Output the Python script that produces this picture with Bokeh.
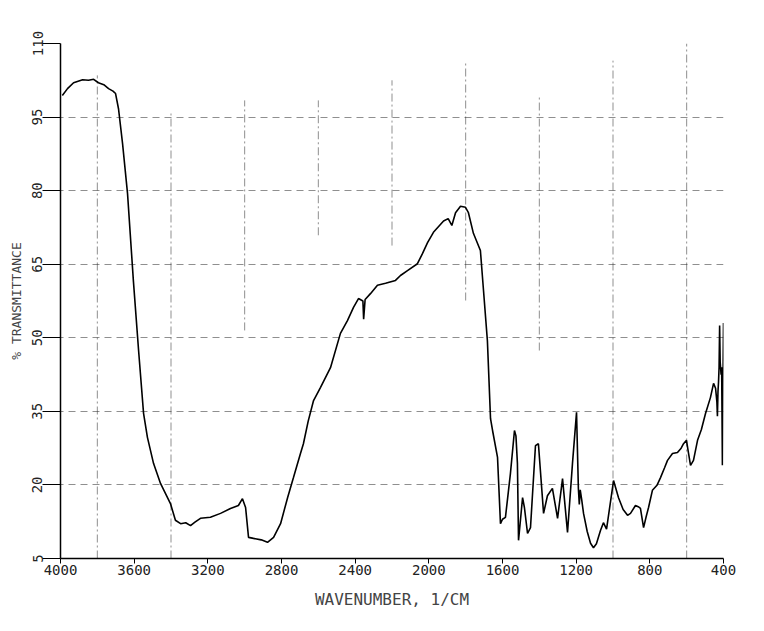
from bokeh.plotting import figure
from bokeh.models import Range1d, FixedTicker, ColumnDataSource
from bokeh.embed import file_html
from bokeh.resources import INLINE

wavenumber = [3990, 3962, 3929, 3880, 3848, 3820, 3794, 3765, 3739, 3715, 3701, 3685, 3663, 3636,
              3604, 3576, 3549, 3528, 3495, 3457, 3403, 3376, 3348, 3320, 3294, 3270, 3240, 3186,
              3131, 3077, 3034, 3012, 2995, 2979, 2952, 2910, 2876, 2843, 2805, 2767, 2735, 2697,
              2681, 2655, 2626, 2588, 2534, 2480, 2442, 2409, 2382, 2358, 2354, 2346, 2317, 2279, 2235,
              2181, 2154, 2116, 2062, 2034, 2007, 1975, 1920, 1895, 1875, 1855, 1828, 1801, 1785,
              1758, 1720, 1703, 1682, 1665, 1654, 1627, 1611, 1600, 1584, 1557, 1535, 1527, 1519,
              1513, 1491, 1481, 1464, 1448, 1421, 1405, 1377, 1356, 1329, 1301, 1274, 1247, 1220,
              1198, 1188, 1183, 1178, 1170, 1160, 1140, 1122, 1106, 1090, 1068, 1052, 1035, 997,
              970, 945, 921, 905, 878, 860, 851, 834, 820, 807, 786, 760, 742, 720, 704, 677, 650,
              630, 617, 601, 590, 579, 563, 541, 520, 498, 471, 454, 443, 436, 433, 430, 427, 424,
              421, 418, 413, 410, 406, 403, 400]
transmittance = [99.4, 100.8, 102.0, 102.6, 102.5, 102.7, 102.0, 101.6, 100.8, 100.3, 99.8, 96.7, 89.6, 79.4,
                 61.5, 47.4, 34.6, 29.7, 24.4, 20.3, 16.2, 12.8, 12.1, 12.3, 11.7, 12.4, 13.2, 13.4,
                 14.2, 15.2, 15.8, 17.2, 15.4, 9.3, 9.1, 8.8, 8.3, 9.3, 12.1, 17.4, 21.5, 26.4,
                 28.4, 33.0, 37.2, 39.9, 43.9, 50.9, 53.5, 56.2, 58.0, 57.5, 53.8, 57.8, 59.0, 60.7, 61.1,
                 61.7, 62.7, 63.7, 65.1, 67.2, 69.4, 71.5, 73.8, 74.3, 72.9, 75.5, 76.8, 76.6, 75.5,
                 71.3, 67.8, 59.6, 49.4, 33.5, 31.1, 25.6, 12.1, 13.0, 13.4, 22.3, 31.1, 30.0, 24.4,
                 8.7, 17.4, 15.4, 10.1, 11.3, 28.0, 28.4, 14.2, 17.8, 19.3, 13.2, 21.3, 10.3, 24.4,
                 34.8, 19.3, 16.0, 19.0, 17.0, 14.2, 10.5, 8.1, 7.2, 8.0, 10.7, 12.3, 11.0, 20.9,
                 17.4, 15.0, 13.8, 14.2, 15.8, 15.5, 15.2, 11.3, 13.5, 15.4, 18.9, 20.0, 21.5, 23.5, 25.0, 26.4, 26.6,
                 27.5, 28.4, 29.1, 26.5, 24.0, 25.0, 29.1, 31.3, 34.5, 37.8, 40.7, 39.7, 37.0, 34.0, 39.0, 41.0, 44.0,
                 52.5, 45.0, 42.5, 44.0, 24.0, 40.0, 53.0]

x_ticks = [4000, 3600, 3200, 2800, 2400, 2000, 1600, 1200, 800, 400]
y_ticks = [5, 20, 35, 50, 65, 80, 95, 110]

# chart-paper rulings (wavenumber, top %T, bottom %T)
paper_x = [3800, 3400, 3000, 2600, 2200, 1800, 1400, 1000, 600]
paper_top = [103.5, 96.3, 98.4, 98.4, 102.5, 106.5, 99.4, 106.5, 110]
paper_bottom = [5, 5, 51.5, 70.9, 68.8, 57.6, 47.4, 5, 5]

FONT = "DejaVu Sans Mono"

p = figure(width=748, height=615,
           x_range=Range1d(4000, 400), y_range=Range1d(5, 110),
           output_backend="svg", toolbar_location=None,
           min_border_left=60, min_border_right=25,
           min_border_top=43, min_border_bottom=57)
p.outline_line_color = None
p.background_fill_color = "white"
p.border_fill_color = "white"

# grids
p.xgrid.grid_line_color = None
p.ygrid.ticker = FixedTicker(ticks=y_ticks[1:-1])
p.ygrid.grid_line_color = "#333333"
p.ygrid.grid_line_alpha = 0.55
p.ygrid.grid_line_dash = "7 5"
p.ygrid.grid_line_width = 1

paper = ColumnDataSource(dict(x=paper_x, top=paper_top, bottom=paper_bottom))
p.segment(x0="x", y0="bottom", x1="x", y1="top", source=paper,
          line_color="#333333", line_alpha=0.55, line_width=1, line_dash="8 3 2 3")

# spectrum
src = ColumnDataSource(dict(x=wavenumber, y=transmittance))
p.line("x", "y", source=src, line_color="black", line_width=1.6)

# axes
xa = p.xaxis[0]
xa.ticker = FixedTicker(ticks=x_ticks)
xa.axis_label = "WAVENUMBER, 1/CM"
xa.axis_label_text_font = FONT
xa.axis_label_text_font_style = "normal"
xa.axis_label_text_font_size = "16px"
xa.axis_label_standoff = 12
xa.major_label_text_font = FONT
xa.major_label_text_font_size = "14px"
xa.major_label_text_color = "#222222"
xa.major_label_standoff = 1
xa.major_tick_out = 5
xa.major_tick_in = 0
xa.minor_tick_line_color = None
xa.axis_line_color = "black"
xa.axis_line_width = 1.5
xa.major_tick_line_color = "black"

ya = p.yaxis[0]
ya.ticker = FixedTicker(ticks=y_ticks)
ya.axis_label = "% TRANSMITTANCE"
ya.axis_label_text_font = FONT
ya.axis_label_text_font_style = "normal"
ya.axis_label_text_font_size = "13px"
ya.axis_label_standoff = 6
ya.major_label_text_font = FONT
ya.major_label_text_font_size = "14px"
ya.major_label_text_color = "#222222"
ya.major_label_orientation = "vertical"
ya.major_label_standoff = 0
ya.major_tick_out = 18
ya.major_tick_in = 0
ya.minor_tick_line_color = None
ya.axis_line_color = "black"
ya.axis_line_width = 1.5
ya.major_tick_line_color = "black"

open("out.html", "w").write(file_html(p, INLINE))
